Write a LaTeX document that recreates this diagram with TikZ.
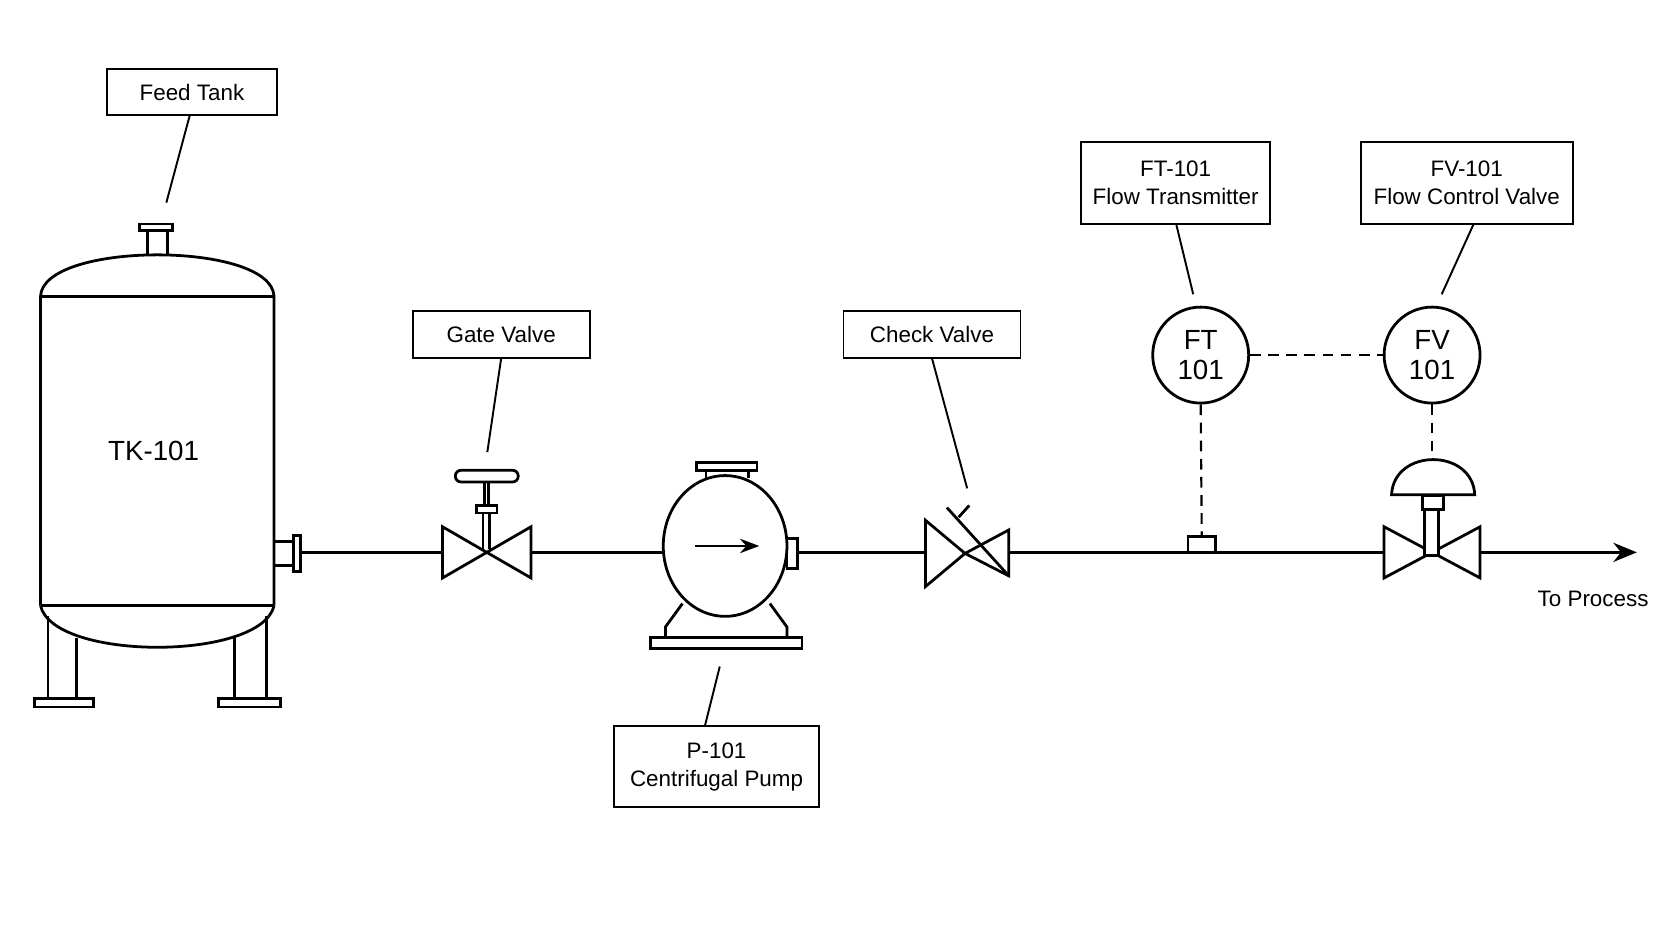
\documentclass[tikz,border=0pt]{standalone}
\usepackage{fontspec}
\setmainfont{Liberation Sans}
\usetikzlibrary{arrows.meta}
\begin{document}
\begin{tikzpicture}[x=0.5pt,y=-0.5pt,line width=1.3pt,
  lbl/.style={draw,line width=0.9pt,rectangle,inner sep=0pt,font=\fontsize{10.5}{13}\selectfont,align=center},
  lead/.style={line width=0.9pt},
  inst/.style={draw,circle,line width=1.3pt,minimum size=45pt,inner sep=0pt,font=\fontsize{13}{16}\selectfont,align=center},
  sig/.style={line width=1pt,dash pattern=on 5pt off 3.5pt}]
\useasboundingbox (0,0) rectangle (1568,882.5);
\fill[white] (0,0) rectangle (1568,882.5);
% tank
\draw (38,568) -- (38,278) .. controls (40,226) and (255,226) .. (257,278) -- (257,568);
\draw (38,278) -- (257,278);
\draw (38,568) -- (257,568);
\draw (38,568) .. controls (50,620) and (245,620) .. (257,568);
\draw (138,239) -- (138,216) (157,216) -- (157,239);
\draw (131,210) rectangle (162,216);
\draw (45,578) -- (45,655) (72,598) -- (72,655);
\draw (250,578) -- (250,655) (220,598) -- (220,655);
\draw (32,655) rectangle (88,663);
\draw (205,655) rectangle (263,663);
\draw (257,508) rectangle (275,530);
\draw (275,502) rectangle (282,536);
\node[font=\fontsize{13}{16}\selectfont] (tk) at (144,423) {TK-101};
% pipe segments
\coordinate (p0) at (282,518);
\coordinate (g1) at (415,518);
\draw (p0) -- (g1);
% gate valve
\draw (415,494) -- (498,542) -- (498,494) -- (415,542) -- cycle;
\draw (453,515) -- (453,481) (459,481) -- (459,515);
\draw (447,474) rectangle (466,481);
\draw (454,474) -- (454,452) (458,452) -- (458,474);
\draw[rounded corners=2.7pt] (427,441) rectangle (486,452);
\coordinate (g2) at (498,518);
\coordinate (pi) at (622,518);
\draw (g2) -- (pi);
% pump
\draw (680,512) ellipse (58 and 66);
\draw (662,448) -- (662,441) -- (702,441) -- (702,448);
\draw (653,434) rectangle (710,441);
\draw[-{Stealth[length=9pt]}] (652,512) -- (712,512);
\draw (738,505) rectangle (748,533);
\draw (640,566) -- (624,588) -- (624,598) (722,566) -- (738,588) -- (738,598);
\draw (610,598) rectangle (752,608);
\coordinate (po) at (748,518);
\coordinate (c1) at (868,518);
\draw (po) -- (c1);
% check valve
\draw (868,488) -- (868,550) -- (905,519) -- cycle;
\draw (905,519) -- (946,497) -- (946,540) -- cycle;
\draw (888,476) -- (946,540);
\draw (899,485) -- (909,474);
\coordinate (c2) at (946,518);
\coordinate (f1) at (1298,518);
\draw (c2) -- (f1);
\draw (1114,518) -- (1114,503) -- (1140,503) -- (1140,518);
% control valve
\draw (1298,494) -- (1388,542) -- (1388,494) -- (1298,542) -- cycle;
\draw[fill=white] (1336,478) rectangle (1349,521);
\draw (1334,465) rectangle (1354,478);
\draw (1305,464) .. controls (1307,420) and (1381,420) .. (1383,464) -- cycle;
\coordinate (f2) at (1388,518);
\coordinate (out) at (1535,518);
\draw[-{Stealth[length=11pt,width=9pt]}] (f2) -- (out);
\node[font=\fontsize{10.5}{13}\selectfont] (tp) at (1494,562) {To Process};
% instruments
\node[inst] (ft) at (1126,333) {FT\\[-2pt]101};
\node[inst] (fv) at (1343,333) {FV\\[-2pt]101};
\coordinate (fts) at (1127,503);
\coordinate (fva) at (1343,431);
\draw[sig] (ft) -- (fv);
\draw[sig] (ft.south) -- (fts);
\draw[sig] (fv.south) -- (fva);
% labels
\node[lbl,minimum width=80pt,minimum height=21.5pt] (lft) at (180,86.5) {Feed Tank};
\node[lbl,minimum width=83pt,minimum height=22pt] (lgv) at (470,314) {Gate Valve};
\node[lbl,minimum width=83pt,minimum height=22pt] (lcv) at (874,314) {Check Valve};
\node[lbl,minimum width=96pt,minimum height=38pt] (lp) at (672,719) {P-101\\Centrifugal Pump};
\node[lbl,minimum width=88.5pt,minimum height=38.5pt] (lftx) at (1102.5,171.5) {FT-101\\Flow Transmitter};
\node[lbl,minimum width=99.5pt,minimum height=38.5pt] (lfv) at (1375.5,171.5) {FV-101\\Flow Control Valve};
\coordinate (a1) at (156,190);
\coordinate (a2) at (457,424);
\coordinate (a3) at (907,458);
\coordinate (a4) at (675,625);
\coordinate (a5) at (1119,276);
\coordinate (a6) at (1352,276);
\draw[lead] (178,108) -- (a1);
\draw[lead] (470,336) -- (a2);
\draw[lead] (874,336) -- (a3);
\draw[lead] (661,681) -- (a4);
\draw[lead] (1103,210) -- (a5);
\draw[lead] (1382,210) -- (a6);
\end{tikzpicture}
\end{document}
